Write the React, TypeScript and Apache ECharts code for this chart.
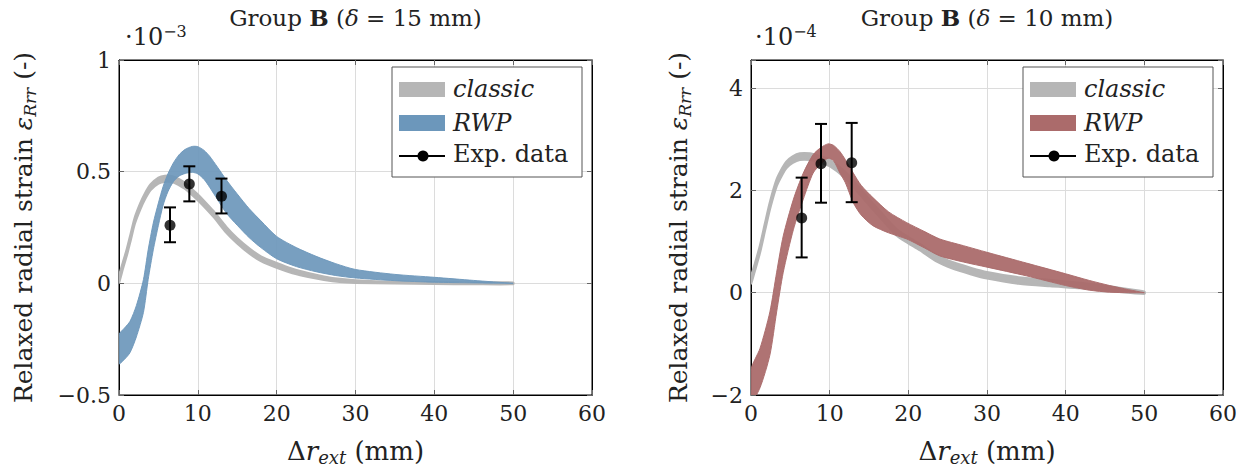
import React, { useEffect, useRef } from "react";
import * as echarts from "echarts";

// ---------- DATA ----------
const X_TICKS = [0, 10, 20, 30, 40, 50, 60];

// Left panel (values in 1e-3)
const leftClassicX = [0, 0.5, 1, 1.5, 2, 2.7, 3.3, 4, 5, 5.8, 6.9, 8, 8.6, 10, 10.7, 12, 13.6, 15, 16.6, 18, 20, 22, 24, 26, 28, 30, 35, 40, 45, 50];
const leftClassicLo = [0.005, 0.068, 0.128, 0.198, 0.268, 0.333, 0.378, 0.418, 0.447, 0.455, 0.452, 0.432, 0.418, 0.373, 0.348, 0.298, 0.228, 0.179, 0.132, 0.1, 0.07, 0.046, 0.029, 0.016, 0.007, 0.003, 0, -0.002, -0.003, -0.003];
const leftClassicHi = [0.03, 0.092, 0.152, 0.222, 0.292, 0.357, 0.402, 0.442, 0.473, 0.481, 0.478, 0.458, 0.442, 0.397, 0.372, 0.322, 0.252, 0.201, 0.154, 0.12, 0.09, 0.064, 0.045, 0.03, 0.019, 0.013, 0.006, 0.004, 0.003, 0.003];

const leftRwpX = [0, 0.7, 1.4, 2.2, 3.1, 3.7, 4.35, 5, 5.6, 6.2, 6.9, 7.6, 8.4, 9.3, 10, 10.8, 11.5, 12.5, 13.6, 15, 16.5, 18, 20, 22.5, 25, 27.5, 30, 35, 40, 45, 50];
const leftRwpLo = [-0.36, -0.34, -0.31, -0.24, -0.13, 0.017, 0.15, 0.26, 0.35, 0.41, 0.455, 0.48, 0.492, 0.497, 0.49, 0.465, 0.43, 0.375, 0.315, 0.26, 0.205, 0.16, 0.11, 0.075, 0.052, 0.035, 0.024, 0.012, 0.005, 0.002, 0];
const leftRwpHi = [-0.23, -0.2, -0.17, -0.1, 0.017, 0.15, 0.27, 0.36, 0.434, 0.49, 0.539, 0.575, 0.6, 0.613, 0.612, 0.595, 0.569, 0.52, 0.464, 0.4, 0.335, 0.28, 0.21, 0.16, 0.121, 0.088, 0.062, 0.04, 0.027, 0.013, 0];

const leftExpX = [6.47, 8.92, 13.0];
const leftExpY = [0.26, 0.445, 0.39];
const leftExpLo = [0.184, 0.367, 0.313];
const leftExpHi = [0.34, 0.524, 0.469];

// Right panel (values in 1e-4)
const rightClassicX = [0, 0.5, 1.14, 1.8, 2.4, 3.26, 4, 4.5, 5.3, 6.2, 7.5, 8.5, 10, 12, 14, 16, 18.5, 20, 21.5, 23.5, 25.7, 28, 30, 34, 38, 42, 46, 50];
const rightClassicLo = [0.18, 0.44, 0.79, 1.24, 1.64, 2.09, 2.32, 2.44, 2.54, 2.6, 2.6, 2.56, 2.48, 2.24, 1.89, 1.54, 1.12, 0.97, 0.83, 0.62, 0.47, 0.36, 0.28, 0.18, 0.13, 0.09, 0.03, -0.02];
const rightClassicHi = [0.3, 0.56, 0.91, 1.36, 1.76, 2.21, 2.44, 2.56, 2.66, 2.72, 2.72, 2.68, 2.6, 2.36, 2.01, 1.66, 1.24, 1.09, 0.95, 0.74, 0.59, 0.48, 0.4, 0.3, 0.25, 0.19, 0.11, 0.02];

const rightRwpX = [0, 1.14, 2.4, 3.26, 4.1, 5.4, 6.65, 7.9, 8.9, 9.8, 10.5, 11.3, 12, 13, 14, 15.5, 17.5, 19.8, 22, 24, 27, 30, 35, 40, 43, 45.6, 48, 50];
const rightRwpLo = [-2.15, -1.86, -1.22, -0.375, 0.4, 1.24, 1.83, 2.34, 2.52, 2.63, 2.58, 2.34, 2.15, 1.76, 1.52, 1.31, 1.17, 1.05, 0.88, 0.72, 0.6, 0.5, 0.33, 0.14, 0.05, 0.01, 0, 0];
const rightRwpHi = [-1.5, -1.09, -0.375, 0.4, 1.11, 1.83, 2.34, 2.7, 2.84, 2.91, 2.88, 2.76, 2.6, 2.34, 2.1, 1.86, 1.58, 1.37, 1.2, 1.05, 0.92, 0.79, 0.58, 0.37, 0.24, 0.14, 0.06, 0];

const rightExpX = [6.44, 8.9, 12.8];
const rightExpY = [1.46, 2.52, 2.54];
const rightExpLo = [0.69, 1.76, 1.77];
const rightExpHi = [2.25, 3.3, 3.32];

const LEGEND_LABELS = ["classic", "RWP", "Exp. data"];

// ---------- STYLE ----------
const FONT = "DejaVu Serif";
const GRAY = "#b6b6b6";
const BLUE = "#6c97bb";
const RED = "#ab6b6b";
const TXT = "#222";

const GRIDS = [
  { left: 119, top: 60, width: 473, height: 336 },
  { left: 751, top: 60, width: 472, height: 336 },
];

function rich(size: number) {
  const s = Math.round(size * 0.68);
  const off = Math.round(size * 0.5);
  return {
    n: { fontFamily: FONT, fontSize: size, color: TXT },
    b: { fontFamily: FONT, fontSize: size, fontWeight: "bold", color: TXT },
    i: { fontFamily: FONT, fontSize: size, fontStyle: "italic", color: TXT },
    sub: { fontFamily: FONT, fontSize: s, fontStyle: "italic", color: TXT, padding: [off, 0, 0, 0] },
    sup: { fontFamily: FONT, fontSize: s, color: TXT, padding: [0, 0, off, 0] },
  };
}

function bandSeries(id: string, xs: number[], lo: number[], hi: number[], color: string, gi: number, opacity: number, edge: number) {
  return {
    type: "custom",
    name: id,
    xAxisIndex: gi,
    yAxisIndex: gi,
    clip: true,
    silent: true,
    data: xs.map((x, i) => [x, lo[i], hi[i]]),
    encode: { x: 0, y: [1, 2] },
    renderItem: (params: any, api: any) => {
      if (params.dataIndex !== 0) return null;
      const top = xs.map((x, i) => api.coord([x, hi[i]]));
      const bottom = xs.map((x, i) => api.coord([x, lo[i]])).reverse();
      return {
        type: "polygon",
        shape: { points: top.concat(bottom), smooth: 0.25 },
        style: { fill: color, stroke: color, lineWidth: edge, lineJoin: "round", opacity },
      };
    },
  };
}

function expSeries(gi: number, xs: number[], ys: number[], lo: number[], hi: number[]) {
  return [
    {
      type: "custom",
      name: "Exp. data bars " + gi,
      xAxisIndex: gi,
      yAxisIndex: gi,
      data: xs.map((x, i) => [x, lo[i], hi[i]]),
      encode: { x: 0, y: [1, 2] },
      z: 5,
      renderItem: (params: any, api: any) => {
        const x = api.value(0);
        const p1 = api.coord([x, api.value(1)]);
        const p2 = api.coord([x, api.value(2)]);
        const hw = 6;
        const st = { stroke: "#000", lineWidth: 2 };
        return {
          type: "group",
          children: [
            { type: "line", shape: { x1: p1[0], y1: p1[1], x2: p2[0], y2: p2[1] }, style: st },
            { type: "line", shape: { x1: p1[0] - hw, y1: p1[1], x2: p1[0] + hw, y2: p1[1] }, style: st },
            { type: "line", shape: { x1: p2[0] - hw, y1: p2[1], x2: p2[0] + hw, y2: p2[1] }, style: st },
          ],
        };
      },
    },
    {
      type: "scatter",
      name: "Exp. data " + gi,
      xAxisIndex: gi,
      yAxisIndex: gi,
      data: xs.map((x, i) => [x, ys[i]]),
      symbol: "circle",
      symbolSize: 11,
      itemStyle: { color: "#000" },
      z: 6,
    },
  ];
}

function legendGraphic(bx: number, by: number, rwpColor: string) {
  const ts = (italic: boolean) => ({ fontFamily: FONT, fontSize: 24, fontStyle: italic ? "italic" : "normal", fill: TXT });
  return [
    { type: "rect", shape: { x: bx, y: by, width: 190, height: 110 }, style: { fill: "#fff", stroke: "#555", lineWidth: 1 }, z: 10 },
    { type: "rect", shape: { x: bx + 7, y: by + 15, width: 46, height: 15 }, style: { fill: GRAY }, z: 11 },
    { type: "rect", shape: { x: bx + 7, y: by + 48, width: 46, height: 16 }, style: { fill: rwpColor }, z: 11 },
    { type: "line", shape: { x1: bx + 7, y1: by + 89, x2: bx + 53, y2: by + 89 }, style: { stroke: "#000", lineWidth: 2 }, z: 11 },
    { type: "circle", shape: { cx: bx + 31, cy: by + 89, r: 5.5 }, style: { fill: "#000" }, z: 12 },
    { type: "text", x: bx + 61, y: by + 22, style: { text: LEGEND_LABELS[0], ...ts(true), verticalAlign: "middle" }, z: 11 },
    { type: "text", x: bx + 61, y: by + 56, style: { text: LEGEND_LABELS[1], ...ts(true), verticalAlign: "middle" }, z: 11 },
    { type: "text", x: bx + 61, y: by + 87, style: { text: LEGEND_LABELS[2], ...ts(false), verticalAlign: "middle" }, z: 11 },
  ];
}

const fmtMinus = (v: number) => (v < 0 ? "\u2212" + String(Math.abs(v)) : String(v));

function buildOption() {
  const xAxes: any[] = [];
  const yAxes: any[] = [];
  const yCfg = [
    { min: -0.5, max: 1, interval: 0.5, gap: 81 },
    { min: -2, max: 4.55, interval: 2, gap: 58 },
  ];
  const tick = { show: true, inside: true, length: 5, lineStyle: { color: "#666" } };
  const xNameSize = 26;
  const yNameSize = 25;
  [0, 1].forEach((gi) => {
    xAxes.push({
      type: "value",
      gridIndex: gi,
      min: X_TICKS[0],
      max: X_TICKS[X_TICKS.length - 1],
      interval: X_TICKS[1] - X_TICKS[0],
      name: "{n|\u0394}{i|r}{sub|ext}{n| (mm)}",
      nameLocation: "middle",
      nameGap: 40,
      nameTextStyle: { fontFamily: FONT, fontSize: xNameSize, color: TXT, rich: rich(xNameSize) },
      axisLine: { show: true, onZero: false, lineStyle: { color: "#000", width: 1 } },
      axisTick: tick,
      axisLabel: { fontFamily: FONT, fontSize: 22, color: TXT, margin: 7 },
      splitLine: { show: true, lineStyle: { color: "#dcdcdc", width: 1 } },
    });
  });
  [0, 1].forEach((gi) => {
    const c = yCfg[gi];
    yAxes.push({
      type: "value",
      gridIndex: gi,
      min: c.min,
      max: c.max,
      interval: c.interval,
      name: "{n|Relaxed radial strain }{i|\u03b5}{sub|Rrr}{n| (-)}",
      nameLocation: "middle",
      nameRotate: 90,
      nameGap: c.gap,
      nameTextStyle: { fontFamily: FONT, fontSize: yNameSize, color: TXT, rich: rich(yNameSize) },
      axisLine: { show: true, onZero: false, lineStyle: { color: "#000", width: 1 } },
      axisTick: tick,
      axisLabel: {
        fontFamily: FONT,
        fontSize: 22,
        color: TXT,
        margin: 8,
        formatter: (v: number) => {
          const k = (v - c.min) / c.interval;
          if (Math.abs(k - Math.round(k)) > 1e-6) return "";
          return fmtMinus(Math.round(v * 100) / 100);
        },
      },
      splitLine: { show: true, lineStyle: { color: "#dcdcdc", width: 1 } },
    });
  });
  // mirrored axes (top / right) with inner ticks only
  [0, 1].forEach((gi) => {
    xAxes.push({
      type: "value",
      gridIndex: gi,
      position: "top",
      min: X_TICKS[0],
      max: X_TICKS[X_TICKS.length - 1],
      interval: X_TICKS[1] - X_TICKS[0],
      axisLine: { show: true, onZero: false, lineStyle: { color: "#000" } },
      axisTick: tick,
      axisLabel: { show: false },
      splitLine: { show: false },
    });
    const c = yCfg[gi];
    yAxes.push({
      type: "value",
      gridIndex: gi,
      position: "right",
      min: c.min,
      max: c.max,
      interval: c.interval,
      axisLine: { show: true, onZero: false, lineStyle: { color: "#000" } },
      axisTick: tick,
      axisLabel: { show: false },
      splitLine: { show: false },
    });
  });

  const series: any[] = [
    bandSeries("classic-L", leftClassicX, leftClassicLo, leftClassicHi, GRAY, 0, 1, 2.5),
    bandSeries("RWP-L", leftRwpX, leftRwpLo, leftRwpHi, BLUE, 0, 0.92, 1),
    ...expSeries(0, leftExpX, leftExpY, leftExpLo, leftExpHi),
    bandSeries("classic-R", rightClassicX, rightClassicLo, rightClassicHi, GRAY, 1, 1, 2.5),
    bandSeries("RWP-R", rightRwpX, rightRwpLo, rightRwpHi, RED, 1, 0.95, 1),
    ...expSeries(1, rightExpX, rightExpY, rightExpLo, rightExpHi),
  ];

  const expLabel = (bx: number, exp: string) => ({
    type: "text",
    x: bx,
    y: 51,
    style: {
      text: "{n|\u00b710}{sup|\u2212" + exp + "}",
      rich: rich(24),
      verticalAlign: "bottom",
      fontFamily: FONT,
      fontSize: 24,
      fill: TXT,
    },
  });

  const titleStyle = { fontFamily: FONT, fontSize: 23, color: TXT, fontWeight: "normal", rich: rich(23) };
  return {
    animation: false,
    backgroundColor: "#fff",
    textStyle: { fontFamily: FONT },
    title: [
      {
        text: "{n|Group }{b|B}{n| (}{i|\u03b4}{n| = 15 mm)}",
        left: GRIDS[0].left + GRIDS[0].width / 2,
        top: 6,
        padding: 0,
        textAlign: "center",
        textStyle: titleStyle,
      },
      {
        text: "{n|Group }{b|B}{n| (}{i|\u03b4}{n| = 10 mm)}",
        left: GRIDS[1].left + GRIDS[1].width / 2,
        top: 6,
        padding: 0,
        textAlign: "center",
        textStyle: titleStyle,
      },
    ],
    grid: GRIDS.map((g) => ({ ...g, show: true, borderColor: "#000", borderWidth: 1, backgroundColor: "#fff", containLabel: false })),
    xAxis: xAxes,
    yAxis: yAxes,
    series,
    graphic: [
      expLabel(125, "3"),
      expLabel(755, "4"),
      ...legendGraphic(392, 67, BLUE),
      ...legendGraphic(1023, 67, RED),
    ],
  };
}

export default function App() {
  const ref = useRef<HTMLDivElement>(null);
  useEffect(() => {
    if (!ref.current) return;
    const chart = echarts.init(ref.current, undefined, { renderer: "svg" });
    chart.setOption(buildOption() as any);
    return () => chart.dispose();
  }, []);
  return (
    <div
      ref={ref}
      style={{ position: "absolute", left: 0, top: 0, width: 1247, height: 471, background: "#fff" }}
    />
  );
}
